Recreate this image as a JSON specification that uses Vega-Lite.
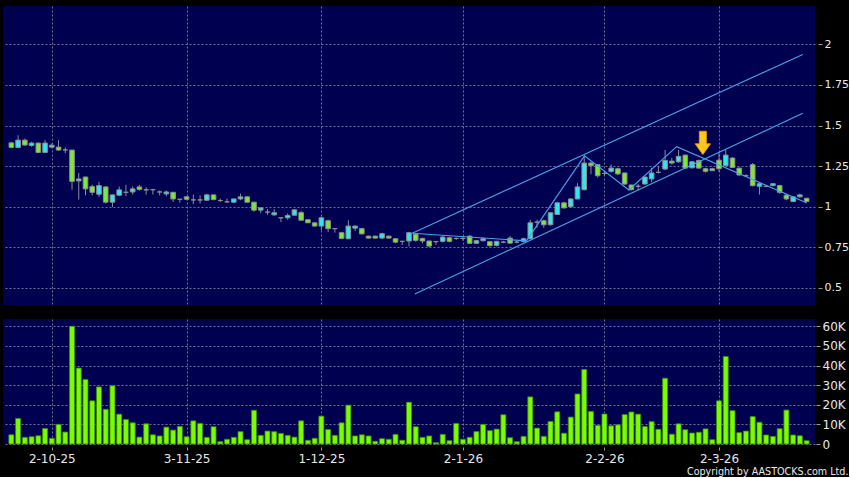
{
  "$schema": "https://vega.github.io/schema/vega-lite/v6.json",
  "background": "#000000",
  "padding": {"left": 3, "top": 6, "right": 0, "bottom": 0},
  "autosize": {"type": "pad"},
  "spacing": 14,
  "config": {
    "view": {"stroke": null, "fill": "#000050"},
    "axis": {
      "domain": false,
      "title": null,
      "gridColor": "#72728e",
      "gridDash": [2, 2],
      "gridWidth": 1,
      "labelColor": "#e8e8e8",
      "labelFont": "DejaVu Sans",
      "labelFontSize": 12,
      "tickColor": "#9a9a9a",
      "tickSize": 4
    }
  },
  "title": {
    "text": "Copyright by AASTOCKS.com Ltd.",
    "orient": "bottom",
    "anchor": "end",
    "color": "#e8e8e8",
    "font": "DejaVu Sans",
    "fontSize": 9.6,
    "fontWeight": "normal",
    "offset": 3
  },
  "datasets": {
    "ohlc": [
      {"i":0,"d":"2025-09-23","o":1.393,"h":1.40,"l":1.36,"c":1.365,"v":4700},
      {"i":1,"d":"2025-09-24","o":1.365,"h":1.44,"l":1.36,"c":1.41,"v":13000},
      {"i":2,"d":"2025-09-25","o":1.41,"h":1.42,"l":1.375,"c":1.38,"v":3400},
      {"i":3,"d":"2025-09-26","o":1.377,"h":1.40,"l":1.37,"c":1.392,"v":3700},
      {"i":4,"d":"2025-09-29","o":1.392,"h":1.395,"l":1.33,"c":1.334,"v":4200},
      {"i":5,"d":"2025-09-30","o":1.334,"h":1.41,"l":1.33,"c":1.392,"v":7900},
      {"i":6,"d":"2025-10-02","o":1.367,"h":1.39,"l":1.36,"c":1.379,"v":2900},
      {"i":7,"d":"2025-10-03","o":1.367,"h":1.41,"l":1.345,"c":1.349,"v":10000},
      {"i":8,"d":"2025-10-06","o":1.35,"h":1.365,"l":1.33,"c":1.35,"v":6100},
      {"i":9,"d":"2025-10-08","o":1.349,"h":1.35,"l":1.105,"c":1.156,"v":60000},
      {"i":10,"d":"2025-10-09","o":1.159,"h":1.208,"l":1.044,"c":1.171,"v":38700},
      {"i":11,"d":"2025-10-10","o":1.183,"h":1.185,"l":1.07,"c":1.11,"v":32900},
      {"i":12,"d":"2025-10-13","o":1.124,"h":1.136,"l":1.07,"c":1.089,"v":22000},
      {"i":13,"d":"2025-10-14","o":1.077,"h":1.153,"l":1.06,"c":1.13,"v":29100},
      {"i":14,"d":"2025-10-15","o":1.122,"h":1.125,"l":1.02,"c":1.028,"v":17700},
      {"i":15,"d":"2025-10-16","o":1.028,"h":1.075,"l":0.997,"c":1.073,"v":29700},
      {"i":16,"d":"2025-10-17","o":1.071,"h":1.125,"l":1.065,"c":1.104,"v":15200},
      {"i":17,"d":"2025-10-20","o":1.089,"h":1.135,"l":1.065,"c":1.089,"v":12500},
      {"i":18,"d":"2025-10-21","o":1.091,"h":1.125,"l":1.075,"c":1.11,"v":10800},
      {"i":19,"d":"2025-10-22","o":1.122,"h":1.135,"l":1.10,"c":1.107,"v":3500},
      {"i":20,"d":"2025-10-23","o":1.104,"h":1.12,"l":1.075,"c":1.104,"v":10300},
      {"i":21,"d":"2025-10-24","o":1.105,"h":1.11,"l":1.075,"c":1.105,"v":4700},
      {"i":22,"d":"2025-10-27","o":1.091,"h":1.10,"l":1.07,"c":1.091,"v":4100},
      {"i":23,"d":"2025-10-28","o":1.079,"h":1.10,"l":1.065,"c":1.091,"v":8600},
      {"i":24,"d":"2025-10-30","o":1.089,"h":1.09,"l":1.03,"c":1.048,"v":7100},
      {"i":25,"d":"2025-10-31","o":1.046,"h":1.047,"l":1.025,"c":1.046,"v":9000},
      {"i":26,"d":"2025-11-03","o":1.061,"h":1.065,"l":1.04,"c":1.046,"v":3700},
      {"i":27,"d":"2025-11-04","o":1.042,"h":1.075,"l":1.016,"c":1.042,"v":11800},
      {"i":28,"d":"2025-11-05","o":1.042,"h":1.07,"l":1.02,"c":1.042,"v":10500},
      {"i":29,"d":"2025-11-06","o":1.04,"h":1.08,"l":1.035,"c":1.073,"v":3400},
      {"i":30,"d":"2025-11-07","o":1.073,"h":1.075,"l":1.04,"c":1.044,"v":8800},
      {"i":31,"d":"2025-11-10","o":1.038,"h":1.05,"l":1.03,"c":1.038,"v":1200},
      {"i":32,"d":"2025-11-11","o":1.03,"h":1.05,"l":1.025,"c":1.03,"v":2400},
      {"i":33,"d":"2025-11-12","o":1.028,"h":1.05,"l":1.025,"c":1.048,"v":3400},
      {"i":34,"d":"2025-11-13","o":1.048,"h":1.08,"l":1.04,"c":1.061,"v":6300},
      {"i":35,"d":"2025-11-14","o":1.061,"h":1.065,"l":1.025,"c":1.028,"v":2200},
      {"i":36,"d":"2025-11-17","o":1.028,"h":1.03,"l":0.97,"c":0.979,"v":17200},
      {"i":37,"d":"2025-11-18","o":0.979,"h":0.995,"l":0.96,"c":0.993,"v":4400},
      {"i":38,"d":"2025-11-19","o":0.967,"h":0.985,"l":0.95,"c":0.967,"v":6600},
      {"i":39,"d":"2025-11-20","o":0.95,"h":0.985,"l":0.945,"c":0.963,"v":6300},
      {"i":40,"d":"2025-11-21","o":0.932,"h":0.935,"l":0.905,"c":0.932,"v":5400},
      {"i":41,"d":"2025-11-24","o":0.932,"h":0.96,"l":0.92,"c":0.946,"v":4400},
      {"i":42,"d":"2025-11-25","o":0.948,"h":0.985,"l":0.945,"c":0.981,"v":3500},
      {"i":43,"d":"2025-11-26","o":0.964,"h":0.975,"l":0.915,"c":0.917,"v":11800},
      {"i":44,"d":"2025-11-27","o":0.92,"h":0.922,"l":0.90,"c":0.901,"v":1900},
      {"i":45,"d":"2025-11-28","o":0.901,"h":0.905,"l":0.878,"c":0.881,"v":2900},
      {"i":46,"d":"2025-12-01","o":0.881,"h":0.94,"l":0.855,"c":0.932,"v":14200},
      {"i":47,"d":"2025-12-02","o":0.914,"h":0.92,"l":0.845,"c":0.865,"v":7400},
      {"i":48,"d":"2025-12-03","o":0.865,"h":0.867,"l":0.84,"c":0.865,"v":4400},
      {"i":49,"d":"2025-12-04","o":0.84,"h":0.845,"l":0.80,"c":0.805,"v":10800},
      {"i":50,"d":"2025-12-05","o":0.803,"h":0.917,"l":0.80,"c":0.881,"v":19800},
      {"i":51,"d":"2025-12-08","o":0.868,"h":0.885,"l":0.85,"c":0.881,"v":4100},
      {"i":52,"d":"2025-12-09","o":0.865,"h":0.87,"l":0.83,"c":0.833,"v":4700},
      {"i":53,"d":"2025-12-10","o":0.819,"h":0.822,"l":0.805,"c":0.807,"v":4100},
      {"i":54,"d":"2025-12-11","o":0.819,"h":0.822,"l":0.805,"c":0.807,"v":1400},
      {"i":55,"d":"2025-12-12","o":0.807,"h":0.84,"l":0.80,"c":0.834,"v":2700},
      {"i":56,"d":"2025-12-15","o":0.819,"h":0.822,"l":0.805,"c":0.807,"v":2400},
      {"i":57,"d":"2025-12-16","o":0.803,"h":0.805,"l":0.775,"c":0.782,"v":4900},
      {"i":58,"d":"2025-12-17","o":0.787,"h":0.79,"l":0.765,"c":0.787,"v":1900},
      {"i":59,"d":"2025-12-18","o":0.789,"h":0.845,"l":0.756,"c":0.84,"v":21300},
      {"i":60,"d":"2025-12-19","o":0.83,"h":0.835,"l":0.785,"c":0.793,"v":8800},
      {"i":61,"d":"2025-12-22","o":0.805,"h":0.81,"l":0.775,"c":0.789,"v":3400},
      {"i":62,"d":"2025-12-23","o":0.789,"h":0.79,"l":0.75,"c":0.758,"v":4100},
      {"i":63,"d":"2025-12-24","o":0.785,"h":0.79,"l":0.765,"c":0.785,"v":700},
      {"i":64,"d":"2025-12-29","o":0.787,"h":0.82,"l":0.78,"c":0.813,"v":4900},
      {"i":65,"d":"2025-12-30","o":0.809,"h":0.815,"l":0.78,"c":0.787,"v":1700},
      {"i":66,"d":"2025-12-31","o":0.805,"h":0.81,"l":0.795,"c":0.805,"v":10500},
      {"i":67,"d":"2026-01-02","o":0.805,"h":0.815,"l":0.79,"c":0.805,"v":2400},
      {"i":68,"d":"2026-01-05","o":0.819,"h":0.825,"l":0.77,"c":0.775,"v":3400},
      {"i":69,"d":"2026-01-06","o":0.775,"h":0.795,"l":0.77,"c":0.791,"v":6400},
      {"i":70,"d":"2026-01-07","o":0.791,"h":0.81,"l":0.785,"c":0.803,"v":10000},
      {"i":71,"d":"2026-01-08","o":0.785,"h":0.79,"l":0.755,"c":0.76,"v":6800},
      {"i":72,"d":"2026-01-09","o":0.762,"h":0.79,"l":0.755,"c":0.787,"v":7600},
      {"i":73,"d":"2026-01-12","o":0.782,"h":0.79,"l":0.775,"c":0.782,"v":14900},
      {"i":74,"d":"2026-01-13","o":0.807,"h":0.82,"l":0.77,"c":0.776,"v":3200},
      {"i":75,"d":"2026-01-14","o":0.782,"h":0.79,"l":0.775,"c":0.782,"v":1200},
      {"i":76,"d":"2026-01-15","o":0.787,"h":0.81,"l":0.78,"c":0.803,"v":3900},
      {"i":77,"d":"2026-01-16","o":0.803,"h":0.92,"l":0.80,"c":0.901,"v":24000},
      {"i":78,"d":"2026-01-19","o":0.905,"h":0.92,"l":0.87,"c":0.905,"v":8100},
      {"i":79,"d":"2026-01-20","o":0.914,"h":0.92,"l":0.87,"c":0.889,"v":3900},
      {"i":80,"d":"2026-01-21","o":0.889,"h":0.965,"l":0.885,"c":0.963,"v":11500},
      {"i":81,"d":"2026-01-22","o":0.952,"h":1.03,"l":0.95,"c":1.024,"v":16400},
      {"i":82,"d":"2026-01-23","o":1.024,"h":1.03,"l":0.99,"c":0.993,"v":5500},
      {"i":83,"d":"2026-01-26","o":1.0,"h":1.05,"l":0.995,"c":1.048,"v":13700},
      {"i":84,"d":"2026-01-27","o":1.048,"h":1.145,"l":1.045,"c":1.122,"v":25500},
      {"i":85,"d":"2026-01-28","o":1.105,"h":1.316,"l":1.10,"c":1.269,"v":38000},
      {"i":86,"d":"2026-01-29","o":1.269,"h":1.275,"l":1.20,"c":1.253,"v":16600},
      {"i":87,"d":"2026-01-30","o":1.259,"h":1.26,"l":1.18,"c":1.191,"v":9500},
      {"i":88,"d":"2026-02-02","o":1.205,"h":1.22,"l":1.19,"c":1.205,"v":15300},
      {"i":89,"d":"2026-02-03","o":1.218,"h":1.26,"l":1.21,"c":1.238,"v":9300},
      {"i":90,"d":"2026-02-04","o":1.234,"h":1.24,"l":1.195,"c":1.202,"v":9800},
      {"i":91,"d":"2026-02-05","o":1.208,"h":1.21,"l":1.135,"c":1.14,"v":15000},
      {"i":92,"d":"2026-02-06","o":1.134,"h":1.135,"l":1.10,"c":1.105,"v":16300},
      {"i":93,"d":"2026-02-09","o":1.126,"h":1.14,"l":1.10,"c":1.126,"v":15200},
      {"i":94,"d":"2026-02-10","o":1.14,"h":1.185,"l":1.135,"c":1.183,"v":8900},
      {"i":95,"d":"2026-02-11","o":1.171,"h":1.24,"l":1.15,"c":1.208,"v":11400},
      {"i":96,"d":"2026-02-12","o":1.212,"h":1.25,"l":1.205,"c":1.212,"v":7500},
      {"i":97,"d":"2026-02-13","o":1.232,"h":1.35,"l":1.225,"c":1.285,"v":33500},
      {"i":98,"d":"2026-02-16","o":1.281,"h":1.30,"l":1.26,"c":1.269,"v":5000},
      {"i":99,"d":"2026-02-20","o":1.277,"h":1.35,"l":1.27,"c":1.31,"v":10300},
      {"i":100,"d":"2026-02-23","o":1.318,"h":1.32,"l":1.235,"c":1.238,"v":7300},
      {"i":101,"d":"2026-02-24","o":1.24,"h":1.28,"l":1.235,"c":1.277,"v":5600},
      {"i":102,"d":"2026-02-25","o":1.285,"h":1.29,"l":1.235,"c":1.238,"v":6000},
      {"i":103,"d":"2026-02-26","o":1.234,"h":1.24,"l":1.21,"c":1.218,"v":7700},
      {"i":104,"d":"2026-02-27","o":1.222,"h":1.24,"l":1.22,"c":1.234,"v":2200},
      {"i":105,"d":"2026-03-02","o":1.287,"h":1.33,"l":1.215,"c":1.234,"v":22000},
      {"i":106,"d":"2026-03-03","o":1.253,"h":1.35,"l":1.25,"c":1.318,"v":44600},
      {"i":107,"d":"2026-03-04","o":1.30,"h":1.305,"l":1.24,"c":1.242,"v":17000},
      {"i":108,"d":"2026-03-05","o":1.238,"h":1.24,"l":1.19,"c":1.196,"v":5800},
      {"i":109,"d":"2026-03-06","o":1.191,"h":1.20,"l":1.185,"c":1.191,"v":6600},
      {"i":110,"d":"2026-03-09","o":1.259,"h":1.27,"l":1.125,"c":1.13,"v":14000},
      {"i":111,"d":"2026-03-10","o":1.126,"h":1.145,"l":1.075,"c":1.142,"v":11100},
      {"i":112,"d":"2026-03-11","o":1.126,"h":1.13,"l":1.12,"c":1.126,"v":4600},
      {"i":113,"d":"2026-03-12","o":1.13,"h":1.145,"l":1.125,"c":1.142,"v":3900},
      {"i":114,"d":"2026-03-13","o":1.13,"h":1.135,"l":1.08,"c":1.089,"v":7800},
      {"i":115,"d":"2026-03-16","o":1.071,"h":1.08,"l":1.04,"c":1.048,"v":17300},
      {"i":116,"d":"2026-03-17","o":1.032,"h":1.065,"l":1.03,"c":1.061,"v":4600},
      {"i":117,"d":"2026-03-18","o":1.061,"h":1.08,"l":1.055,"c":1.073,"v":4200},
      {"i":118,"d":"2026-03-19","o":1.052,"h":1.055,"l":1.03,"c":1.032,"v":1700}
    ],
    "trend": [
      {"line":"upper","k":0,"i":59.48,"p":0.837},
      {"line":"upper","k":1,"i":117.42,"p":1.938},
      {"line":"lower","k":0,"i":59.87,"p":0.463},
      {"line":"lower","k":1,"i":117.42,"p":1.575},
      {"line":"zigzag","k":0,"i":59.48,"p":0.837},
      {"line":"zigzag","k":1,"i":76.43,"p":0.790},
      {"line":"zigzag","k":2,"i":85.04,"p":1.313},
      {"line":"zigzag","k":3,"i":91.63,"p":1.103},
      {"line":"zigzag","k":4,"i":98.71,"p":1.370},
      {"line":"zigzag","k":5,"i":118.05,"p":1.023}
    ],
    "arrow": [
      {"i":102.6,"p":1.393}
    ]
  },
  "vconcat": [
    {
      "width": 812,
      "height": 299,
      "layer": [
        {
          "data": {"name": "ohlc"},
          "mark": {"type": "rule", "color": "#8e8e8e", "strokeWidth": 1},
          "encoding": {
            "x": {
              "field": "i", "type": "quantitative",
              "scale": {"domain": [-0.5, 118.5], "nice": false, "zero": false},
              "axis": {"orient": "bottom", "values": [6, 26, 46, 67, 88, 105], "labels": false, "ticks": false, "grid": true}
            },
            "y": {
              "field": "l", "type": "quantitative",
              "scale": {"domain": [0.395, 2.236], "nice": false, "zero": false},
              "axis": {"orient": "right", "values": [0.5, 0.75, 1, 1.25, 1.5, 1.75, 2], "labelExpr": "format(datum.value, '~g')", "offset": 3, "labelPadding": 2, "labelFontSize": 11, "grid": true}
            },
            "y2": {"field": "h"}
          }
        },
        {
          "data": {"name": "ohlc"},
          "mark": {"type": "bar", "size": 4.6, "stroke": "#8e8e8e", "strokeWidth": 1},
          "encoding": {
            "x": {"field": "i", "type": "quantitative"},
            "y": {"field": "o", "type": "quantitative"},
            "y2": {"field": "c"},
            "fill": {
              "condition": [
                {"test": "datum.c > datum.o", "value": "#30e6f2"},
                {"test": "datum.c < datum.o", "value": "#7ee83a"}
              ],
              "value": "#8e8e8e"
            }
          }
        },
        {
          "data": {"name": "trend"},
          "mark": {"type": "line", "color": "#4aa2e6", "strokeWidth": 1.1},
          "encoding": {
            "x": {"field": "i", "type": "quantitative"},
            "y": {"field": "p", "type": "quantitative"},
            "detail": {"field": "line"},
            "order": {"field": "k"}
          }
        },
        {
          "data": {"name": "arrow"},
          "mark": {
            "type": "point",
            "shape": "M -0.3 -1 L 0.3 -1 L 0.3 0.08 L 0.66 0.08 L 0 1 L -0.66 0.08 L -0.3 0.08 Z",
            "size": 540,
            "filled": true,
            "fill": "#ffc81e",
            "stroke": "#e09a00",
            "strokeWidth": 1,
            "opacity": 1
          },
          "encoding": {
            "x": {"field": "i", "type": "quantitative"},
            "y": {"field": "p", "type": "quantitative"}
          }
        }
      ]
    },
    {
      "width": 812,
      "height": 125,
      "data": {"name": "ohlc"},
      "mark": {"type": "bar", "size": 5, "fill": "#7cfc00", "stroke": "#3a8c00", "strokeWidth": 0.8},
      "encoding": {
        "x": {
          "field": "i", "type": "quantitative",
          "scale": {"domain": [-0.5, 118.5], "nice": false, "zero": false},
          "axis": {
            "orient": "bottom",
            "values": [6, 26, 46, 67, 88, 105],
            "labelExpr": "datum.value == 6 ? '2-10-25' : datum.value == 26 ? '3-11-25' : datum.value == 46 ? '1-12-25' : datum.value == 67 ? '2-1-26' : datum.value == 88 ? '2-2-26' : datum.value == 105 ? '2-3-26' : ''",
            "offset": 3,
            "tickSize": 3,
            "labelPadding": 3,
            "grid": true
          }
        },
        "y": {
          "field": "v", "type": "quantitative",
          "scale": {"domain": [0, 63700], "nice": false, "zero": true},
          "axis": {
            "orient": "right",
            "values": [0, 10000, 20000, 30000, 40000, 50000, 60000],
            "labelExpr": "datum.value == 0 ? '0' : format(datum.value / 1000, 'd') + 'K'",
            "offset": 1,
            "labelPadding": 2,
            "grid": true
          }
        }
      }
    }
  ]
}
